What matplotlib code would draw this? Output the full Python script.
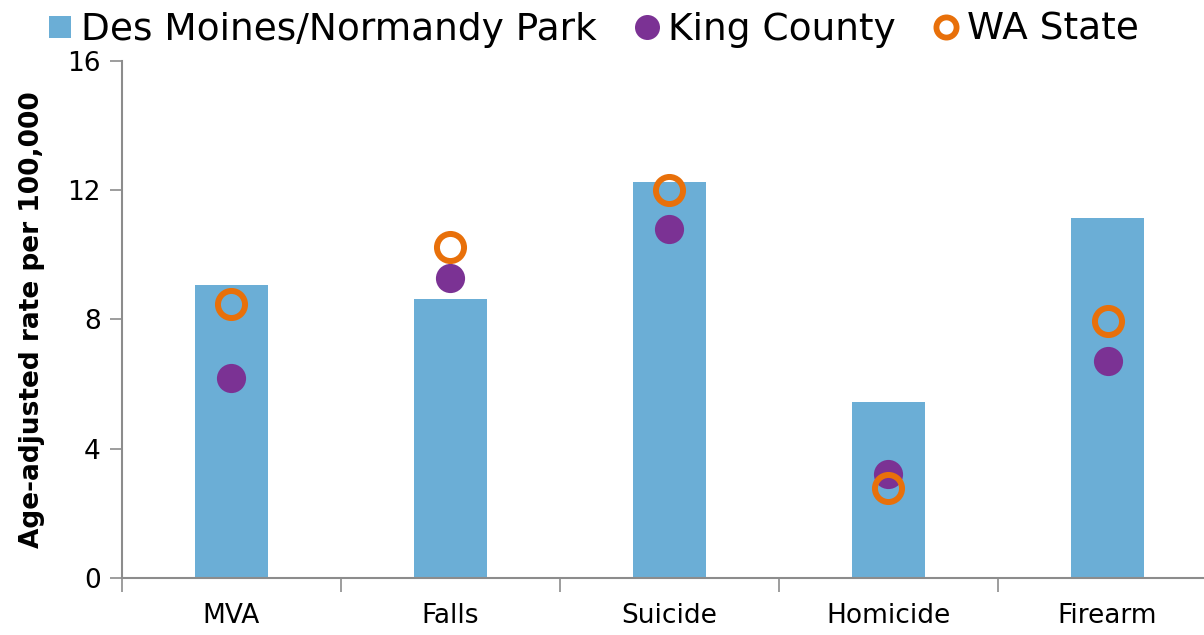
import matplotlib
matplotlib.use("Agg")
import matplotlib.pyplot as plt
from matplotlib.lines import Line2D
import numpy as np

categories = ["MVA", "Falls", "Suicide", "Homicide", "Firearm"]
des_moines = [9.07, 8.63, 12.26, 5.45, 11.14]
king_county = [6.19, 9.28, 10.80, 3.22, 6.72]
wa_state = [8.48, 10.24, 12.00, 2.79, 7.95]
y_ticks = [0, 4, 8, 12, 16]

plt.rcParams['font.family'] = ['DejaVu Sans']

bar_color = "#6BAED6"
king_color = "#7B3294"
wa_color = "#E8700A"
spine_color = "#8C8C8C"

fig = plt.figure(figsize=(12.04, 6.35), dpi=100)
ax = fig.add_axes([0.101, 0.0898, 0.899, 0.8142])

x = np.arange(len(categories))
ax.bar(x, des_moines, width=0.333, color=bar_color, zorder=2)
ax.plot(x, king_county, linestyle="none", marker="o", markersize=21,
        color=king_color, markeredgewidth=0, zorder=3)
ax.plot(x, wa_state, linestyle="none", marker="o", markersize=19.5,
        markerfacecolor="none", markeredgecolor=wa_color,
        markeredgewidth=4.3, zorder=4)

ax.set_yticks(y_ticks)
ax.set_yticklabels([str(t) for t in y_ticks], fontsize=19)

ax.set_xticks(np.arange(-0.5, len(categories) - 1, 1.0))
ax.set_xticklabels([])
ax.set_xticks(x, minor=True)
ax.set_xticklabels(categories, minor=True, fontsize=19)
ax.set_xlim(-0.5, 4.44)
ax.set_ylim(0, 16)
ax.tick_params(axis="x", which="major", length=10, width=1.2, color=spine_color, direction="out")
ax.tick_params(axis="x", which="minor", length=0, pad=18)
ax.tick_params(axis="y", length=9, width=1.2, color=spine_color, direction="out", pad=6)

for s in ["top", "right"]:
    ax.spines[s].set_visible(False)
for s in ["left", "bottom"]:
    ax.spines[s].set_color(spine_color)
    ax.spines[s].set_linewidth(1.5)

ax.set_ylabel("Age-adjusted rate per 100,000", fontsize=19, fontweight="bold", labelpad=16)

handles = [
    Line2D([], [], linestyle="none", marker="s", markersize=16, color=bar_color, markeredgewidth=0),
    Line2D([], [], linestyle="none", marker="o", markersize=18, color=king_color, markeredgewidth=0),
    Line2D([], [], linestyle="none", marker="o", markersize=14.5, markerfacecolor="none",
           markeredgecolor=wa_color, markeredgewidth=4.2),
]
labels = ["Des Moines/Normandy Park", "King County", "WA State"]
fig.legend(handles, labels, loc="upper left", bbox_to_anchor=(0.022, 1.005), ncol=3,
           frameon=False, fontsize=27, handletextpad=0.05, columnspacing=0.85,
           handlelength=1.0, borderaxespad=0)

fig.savefig("out.png", dpi=100)
